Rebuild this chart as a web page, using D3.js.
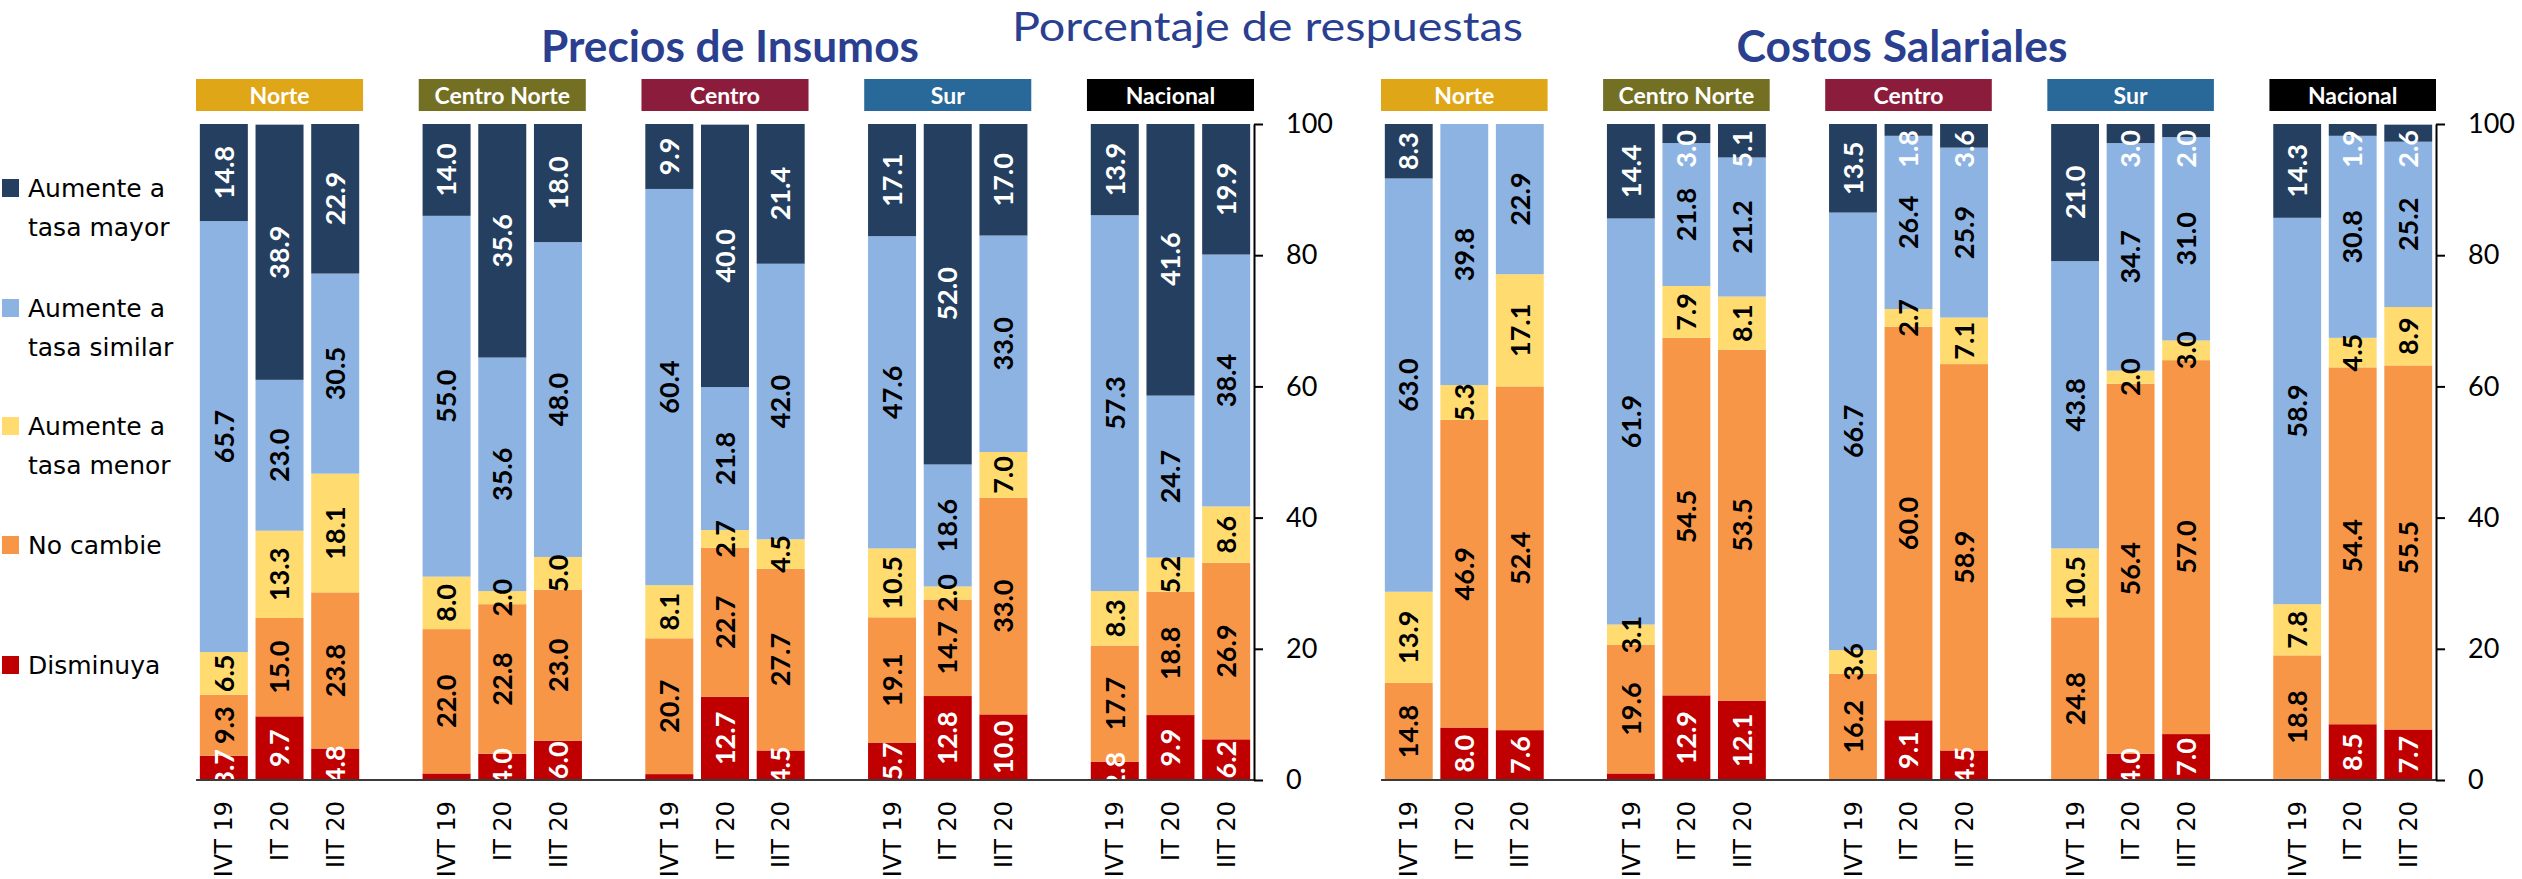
<!DOCTYPE html>
<html>
<head>
<meta charset="utf-8">
<script src="https://cdn.jsdelivr.net/npm/d3@7"></script>
<style>
  html, body { margin: 0; padding: 0; background: #ffffff; overflow: hidden; }
  svg { display: block; }
</style>
</head>
<body>
<svg id="chart" width="2522" height="879"></svg>
<script>
// ---- Data -------------------------------------------------------------
const regions = ["Norte", "Centro Norte", "Centro", "Sur", "Nacional"];
const periods = ["IVT 19", "IT 20", "IIT 20"];
const yTicks = [0, 20, 40, 60, 80, 100];

const seriesKeys = ["mayor", "similar", "menor", "noCambie", "disminuya"];
const legendLines = [
  ["Aumente a", "tasa mayor"],
  ["Aumente a", "tasa similar"],
  ["Aumente a", "tasa menor"],
  ["No cambie"],
  ["Disminuya"]
];

const panelTitles = ["Precios de Insumos", "Costos Salariales"];
const mainTitle = "Porcentaje de respuestas";

// Precios de Insumos: one value per region x period (region-major order)
const preciosMayor     = [14.8, 38.9, 22.9, 14.0, 35.6, 18.0,  9.9, 40.0, 21.4, 17.1, 52.0, 17.0, 13.9, 41.6, 19.9];
const preciosSimilar   = [65.7, 23.0, 30.5, 55.0, 35.6, 48.0, 60.4, 21.8, 42.0, 47.6, 18.6, 33.0, 57.3, 24.7, 38.4];
const preciosMenor     = [ 6.5, 13.3, 18.1,  8.0,  2.0,  5.0,  8.1,  2.7,  4.5, 10.5,  2.0,  7.0,  8.3,  5.2,  8.6];
const preciosNoCambie  = [ 9.3, 15.0, 23.8, 22.0, 22.8, 23.0, 20.7, 22.7, 27.7, 19.1, 14.7, 33.0, 17.7, 18.8, 26.9];
const preciosDisminuya = [ 3.7,  9.7,  4.8,  1.0,  4.0,  6.0,  0.9, 12.7,  4.5,  5.7, 12.8, 10.0,  2.8,  9.9,  6.2];

// Costos Salariales
const costosMayor     = [ 8.3,  0.0,  0.0, 14.4,  3.0,  5.1, 13.5,  1.8,  3.6, 21.0,  3.0,  2.0, 14.3,  1.9,  2.6];
const costosSimilar   = [63.0, 39.8, 22.9, 61.9, 21.8, 21.2, 66.7, 26.4, 25.9, 43.8, 34.7, 31.0, 58.9, 30.8, 25.2];
const costosMenor     = [13.9,  5.3, 17.1,  3.1,  7.9,  8.1,  3.6,  2.7,  7.1, 10.5,  2.0,  3.0,  7.8,  4.5,  8.9];
const costosNoCambie  = [14.8, 46.9, 52.4, 19.6, 54.5, 53.5, 16.2, 60.0, 58.9, 24.8, 56.4, 57.0, 18.8, 54.4, 55.5];
const costosDisminuya = [ 0.0,  8.0,  7.6,  1.0, 12.9, 12.1,  0.0,  9.1,  4.5,  0.0,  4.0,  7.0,  0.2,  8.5,  7.7];

// ---- Styles -----------------------------------------------------------
const seriesColors = {
  mayor: "#253F60", similar: "#8DB3E2", menor: "#FFDB70",
  noCambie: "#F79646", disminuya: "#C00000"
};
const labelColors = {
  mayor: "#ffffff", similar: "#000000", menor: "#000000",
  noCambie: "#000000", disminuya: "#ffffff"
};
const regionColors = ["#DFA617", "#736F23", "#8C1C3C", "#29699A", "#000000"];
const titleColor = "#2A3F90";

const yTop = 124, yBottom = 780;
const panels = [
  { title: panelTitles[0], x0: 196, x1: 1254, titleX: 730, titleLen: 378,
    cols: { mayor: preciosMayor, similar: preciosSimilar, menor: preciosMenor,
            noCambie: preciosNoCambie, disminuya: preciosDisminuya } },
  { title: panelTitles[1], x0: 1381, x1: 2436, titleX: 1902, titleLen: 331,
    cols: { mayor: costosMayor, similar: costosSimilar, menor: costosMenor,
            noCambie: costosNoCambie, disminuya: costosDisminuya } }
];

const svg = d3.select("#chart");
const fmt = d3.format(".1f");

// Slots: three periods per region plus an empty slot between regions
const slots = [];
regions.forEach((r, ri) => {
  periods.forEach(p => slots.push(r + "|" + p));
  if (ri < regions.length - 1) slots.push("gap" + ri);
});
const barKeys = [];
regions.forEach(r => periods.forEach(p => barKeys.push(r + "|" + p)));

const y = d3.scaleLinear().domain([0, 100]).range([yBottom, yTop]);

// ---- Main title -------------------------------------------------------
svg.append("text")
  .attr("x", 1012).attr("y", 41)
  .attr("textLength", 511).attr("lengthAdjust", "spacingAndGlyphs")
  .style("font-family", "Lato, sans-serif").style("font-size", "41px")
  .style("fill", titleColor)
  .text(mainTitle);

// ---- Legend -----------------------------------------------------------
const legendTop = [179, 299, 417, 536, 656];
const legend = svg.append("g").attr("class", "legend");
seriesKeys.forEach((k, i) => {
  const g = legend.append("g").attr("transform", `translate(0,${legendTop[i]})`);
  g.append("rect").attr("x", 2).attr("y", 0).attr("width", 17).attr("height", 18)
    .attr("fill", seriesColors[k]);
  legendLines[i].forEach((line, li) => {
    g.append("text").attr("x", 28).attr("y", 18 + li * 39)
      .style("font-family", "'DejaVu Sans', sans-serif").style("font-size", "25px")
      .style("fill", "#000").text(line);
  });
});

// ---- Panels -----------------------------------------------------------
panels.forEach((panel, pi) => {
  const x = d3.scaleBand().domain(slots).range([panel.x0, panel.x1])
    .paddingInner(0.138).paddingOuter(0.069);
  const step = x.step();
  const g = svg.append("g").attr("class", "panel");

  // panel title
  g.append("text")
    .attr("x", panel.titleX).attr("y", 62).attr("text-anchor", "middle")
    .attr("textLength", panel.titleLen).attr("lengthAdjust", "spacingAndGlyphs")
    .style("font-family", "Lato, sans-serif").style("font-size", "44px")
    .style("font-weight", "bold").style("fill", titleColor)
    .text(panel.title);

  // region header boxes
  regions.forEach((r, ri) => {
    const sx = x(r + "|" + periods[0]) - step * 0.069;
    g.append("rect").attr("x", sx).attr("y", 79).attr("width", step * 3).attr("height", 32)
      .attr("fill", regionColors[ri]);
    g.append("text").attr("x", sx + step * 1.5).attr("y", 104).attr("text-anchor", "middle")
      .style("font-family", "Lato, sans-serif").style("font-size", "23px")
      .style("font-weight", "bold").style("fill", "#fff").text(r);
  });

  // stacked data
  const rows = barKeys.map((key, i) => {
    const row = { key };
    seriesKeys.forEach(k => row[k] = panel.cols[k][i]);
    return row;
  });
  const stackOrder = seriesKeys.slice().reverse(); // Disminuya at the bottom
  const layers = d3.stack().keys(stackOrder)(rows);

  const clipId = "clip" + pi;
  svg.append("clipPath").attr("id", clipId).append("rect")
    .attr("x", panel.x0 - 5).attr("y", yTop).attr("width", panel.x1 - panel.x0 + 5)
    .attr("height", yBottom - yTop);

  const bars = g.append("g").attr("clip-path", `url(#${clipId})`);
  layers.forEach(layer => {
    bars.selectAll(null).data(layer).join("rect")
      .attr("x", d => x(d.data.key))
      .attr("width", x.bandwidth())
      .attr("y", d => y(d[1]))
      .attr("height", d => Math.max(0, y(d[0]) - y(d[1])))
      .attr("fill", seriesColors[layer.key]);
  });

  // value labels
  const labels = g.append("g").attr("clip-path", `url(#${clipId})`);
  layers.forEach(layer => {
    layer.forEach(d => {
      const v = d.data[layer.key];
      if (v < 1.5) return;
      const cx = x(d.data.key) + x.bandwidth() / 2;
      let cy = y((d[0] + d[1]) / 2);
      const t = labels.append("text")
        .attr("text-anchor", "middle").attr("dy", "0.36em")
        .style("font-family", "Lato, sans-serif").style("font-size", "27px")
        .style("font-weight", "bold").style("fill", labelColors[layer.key])
        .text(fmt(v));
      const half = t.node().getComputedTextLength() / 2;
      if (cy - half < yTop + 6) cy = yTop + 6 + half;
      t.attr("transform", `translate(${cx},${cy}) rotate(-90)`);
    });
  });

  // baseline
  g.append("line").attr("x1", panel.x0).attr("x2", panel.x1)
    .attr("y1", yBottom).attr("y2", yBottom)
    .attr("stroke", "#3a3a3a").attr("stroke-width", 2);

  // right value axis
  const axis = g.append("g").attr("transform", `translate(${panel.x1},0)`)
    .call(d3.axisRight(y).tickValues(yTicks).tickSize(9).tickSizeOuter(0).tickPadding(23));
  axis.select(".domain").attr("stroke", "#000").attr("stroke-width", 2);
  axis.selectAll(".tick line").attr("stroke", "#000").attr("stroke-width", 2);
  axis.selectAll(".tick text")
    .style("font-family", "Lato, sans-serif").style("font-size", "27px").style("fill", "#000");

  // period labels under the bars
  barKeys.forEach(key => {
    const cx = x(key) + x.bandwidth() / 2;
    g.append("text")
      .attr("transform", `translate(${cx},801) rotate(-90)`)
      .attr("text-anchor", "end").attr("dy", "0.36em")
      .style("font-family", "'DejaVu Sans', sans-serif").style("font-size", "24px")
      .style("fill", "#000")
      .text(key.split("|")[1]);
  });
});
</script>
</body>
</html>
